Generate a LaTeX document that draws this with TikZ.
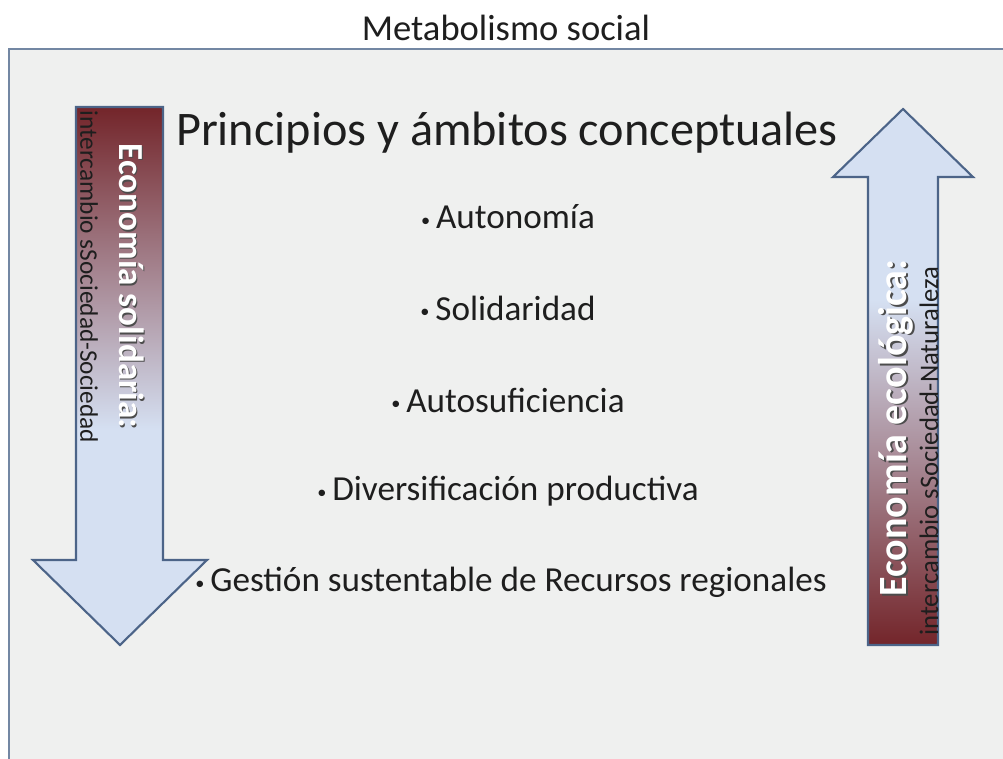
\documentclass[tikz,border=0pt]{standalone}
\usepackage{fontspec}
\setmainfont{Carlito}
\definecolor{bgcol}{HTML}{EFF0EF}
\definecolor{framecol}{HTML}{7387A3}
\definecolor{arrowline}{HTML}{4C6488}
\definecolor{lightblue}{HTML}{D5E0F2}
\definecolor{darkred}{HTML}{73252A}
\definecolor{midmauve}{HTML}{A08595}
\definecolor{txt}{HTML}{1E1E1E}
\newcommand{\smallbul}{{\fontsize{13}{14}\selectfont\raisebox{0.25ex}{•}}\,}
\tikzset{
  arrowshape/.style={draw=arrowline, line width=1.5pt, line join=miter},
  bullet/.style={font=\fontsize{25}{28}\selectfont, text=txt, inner sep=0pt},
  smalllbl/.style={text=txt, inner sep=0pt},
}
\begin{document}
\begin{tikzpicture}[x=0.025cm,y=-0.025cm]
\useasboundingbox (0,0) rectangle (1003,758);
\fill[white] (0,0) rectangle (1003,758);
\draw[framecol, fill=bgcol, line width=2pt] (9,49) rectangle (1012,768);

\node[font=\fontsize{26}{30}\selectfont, text=txt, inner sep=0pt] (title) at (506,28) {Metabolismo social};

% left arrow (down)
\fill[lightblue] (76,107) -- (163,107) -- (163,560) -- (207,560) -- (120,645) -- (33,560) -- (76,560) -- cycle;
\shade[top color=darkred, middle color=midmauve, bottom color=lightblue] (76,107) rectangle (163,430);
\draw[arrowshape] (76,107) -- (163,107) -- (163,560) -- (207,560) -- (120,645) -- (33,560) -- (76,560) -- cycle;

% right arrow (up)
\fill[lightblue] (868,645) -- (938,645) -- (938,177) -- (973,177) -- (903,109) -- (833,177) -- (868,177) -- cycle;
\shade[bottom color=darkred, middle color=midmauve, top color=lightblue] (868,300) rectangle (938,645);
\draw[arrowshape] (868,645) -- (938,645) -- (938,177) -- (973,177) -- (903,109) -- (833,177) -- (868,177) -- cycle;

% left arrow labels
\node[font=\bfseries\fontsize{25}{28}\selectfont, text=black!70, inner sep=0pt, rotate=-90] (lsh) at (133,287.5) {Economía solidaria:};
\node[font=\bfseries\fontsize{25}{28}\selectfont, text=white, inner sep=0pt, rotate=-90] (lw) at (131.5,286) {Economía solidaria:};
\node[smalllbl, font=\fontsize{18}{20}\selectfont, rotate=-90] (ls) at (89,277) {intercambio sSociedad-Sociedad};

% right arrow labels
\node[font=\bfseries\fontsize{28.5}{30}\selectfont, text=black!70, inner sep=0pt, rotate=90] (rsh) at (897.5,429.5) {Economía ecológica:};
\node[font=\bfseries\fontsize{28.5}{30}\selectfont, text=white, inner sep=0pt, rotate=90] (rw) at (896,428) {Economía ecológica:};
\node[smalllbl, font=\fontsize{19}{21}\selectfont, rotate=90] (rs) at (929,451) {intercambio sSociedad-Naturaleza};

% heading and bullets
\node[font=\fontsize{34.3}{40}\selectfont, text=txt, inner sep=0pt] (head) at (507,133) {Principios y ámbitos conceptuales};
\node[bullet] (b1) at (508,217) {\smallbul Autonomía};
\node[bullet] (b2) at (508,308) {\smallbul Solidaridad};
\node[bullet] (b3) at (508,400) {\smallbul Autosuficiencia};
\node[bullet] (b4) at (508,491) {\smallbul Diversificación productiva};
\node[bullet] (b5) at (511,582) {\smallbul Gestión sustentable de Recursos regionales};
\end{tikzpicture}
\end{document}
